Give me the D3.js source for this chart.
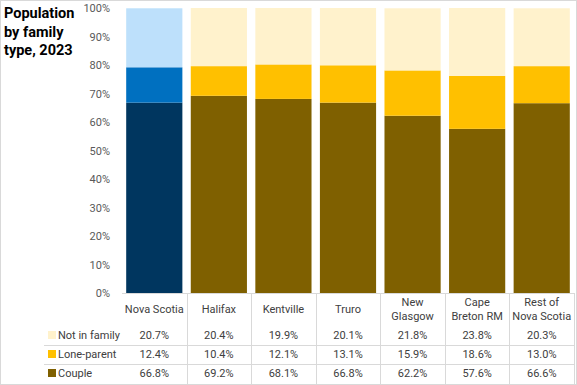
<!DOCTYPE html>
<head>
  <title>Population by family type, 2023</title>
  <style>
    body { margin: 0; background: #fff; }
    text { font-family: Roboto, "Open Sans", sans-serif; }
  </style>
</head>
<body>
  <script src="https://cdn.jsdelivr.net/npm/d3@7"></script>
  <script>
    // data
    var categories = ["Nova Scotia", "Halifax", "Kentville", "Truro", "New Glasgow", "Cape Breton RM", "Rest of Nova Scotia"];
    var catLines = [["Nova Scotia"], ["Halifax"], ["Kentville"], ["Truro"], ["New", "Glasgow"], ["Cape", "Breton RM"], ["Rest of", "Nova Scotia"]];
    var series = ["Couple", "Lone-parent", "Not in family"];
    var couple = [66.8, 69.2, 68.1, 66.8, 62.2, 57.6, 66.6];
    var loneParent = [12.4, 10.4, 12.1, 13.1, 15.9, 18.6, 13.0];
    var notInFamily = [20.7, 20.4, 19.9, 20.1, 21.8, 23.8, 20.3];
    var yTicks = [0, 10, 20, 30, 40, 50, 60, 70, 80, 90, 100];

    var w = 577, h = 385;
    var colors = { "Couple": "#7F6000", "Lone-parent": "#FFC000", "Not in family": "#FFF2CC" };
    var nsColors = { "Couple": "#00365F", "Lone-parent": "#0070C0", "Not in family": "#BDE0FB" };

    var values = { "Couple": couple, "Lone-parent": loneParent, "Not in family": notInFamily };
    var rows = categories.map(function(c, i) {
      return { cat: c, "Couple": couple[i], "Lone-parent": loneParent[i], "Not in family": notInFamily[i] };
    });

    var x = d3.scaleBand().domain(categories).range([122, 574]).paddingInner(0.13).paddingOuter(0.065);
    var y = d3.scaleLinear().domain([0, 100]).range([293, 8]);

    var svg = d3.select("body").append("svg")
      .attr("width", w)
      .attr("height", h);

    // outer border
    svg.append("rect")
      .attr("x", 0.5).attr("y", 0.5)
      .attr("width", w - 1).attr("height", h - 1)
      .attr("fill", "none").attr("stroke", "#d9d9d9");

    // title
    var title = svg.append("text")
      .attr("x", 4).attr("y", 18)
      .style("font-size", "14.5px").style("font-weight", "bold").attr("fill", "#000");
    ["Population", "by family", "type, 2023"].forEach(function(t, i) {
      title.append("tspan").attr("x", 4).attr("dy", i ? 18.5 : 0).text(t);
    });

    // stacked bars
    var stacked = d3.stack().keys(series)(rows);
    svg.selectAll("g.layer")
      .data(stacked)
      .enter().append("g")
      .attr("class", "layer")
      .selectAll("rect")
      .data(function(d) { return d.map(function(p) { p.key = d.key; return p; }); })
      .enter().append("rect")
      .attr("x", function(d) { return x(d.data.cat); })
      .attr("y", function(d) { return y(Math.min(100, d[1])); })
      .attr("width", x.bandwidth())
      .attr("height", function(d) { return y(d[0]) - y(Math.min(100, d[1])); })
      .attr("fill", function(d) {
        return d.data.cat === "Nova Scotia" ? nsColors[d.key] : colors[d.key];
      });

    // y axis
    var yAxis = d3.axisLeft(y).tickValues(yTicks).tickSize(0).tickPadding(0)
      .tickFormat(function(d) { return d + "%"; });
    var ga = svg.append("g").attr("transform", "translate(110,0)").call(yAxis);
    ga.select(".domain").remove();
    ga.selectAll("text").style("font-size", "11px").attr("fill", "#595959")
      .style("font-family", "Roboto, sans-serif");

    // table grid
    var gridColor = "#d9d9d9";
    svg.append("line").attr("x1", 122).attr("x2", 574).attr("y1", 293.5).attr("y2", 293.5)
      .attr("stroke", gridColor);
    categories.forEach(function(c) {
      var xr = Math.round(x(c) + x.step() - x.step() * x.paddingInner() / 2) + 0.5;
      svg.append("line").attr("x1", xr).attr("x2", xr).attr("y1", 293).attr("y2", 385)
        .attr("stroke", gridColor);
    });
    [345.5, 364.5].forEach(function(yy) {
      svg.append("line").attr("x1", 44).attr("x2", 574).attr("y1", yy).attr("y2", yy)
        .attr("stroke", gridColor);
    });

    // category labels
    categories.forEach(function(c, i) {
      var cx = x(c) + x.bandwidth() / 2;
      var lines = catLines[i];
      var t = svg.append("text").attr("x", cx).attr("text-anchor", "middle")
        .style("font-size", "11px").attr("fill", "#404040");
      lines.forEach(function(l, j) {
        var base = lines.length === 1 ? 313 : 306 + j * 14;
        t.append("tspan").attr("x", cx).attr("y", base).text(l);
      });
    });

    // table rows
    var tableRows = ["Not in family", "Lone-parent", "Couple"];
    var rowY = [339, 358, 377];
    tableRows.forEach(function(s, r) {
      svg.append("rect").attr("x", 48).attr("y", rowY[r] - 8).attr("width", 8).attr("height", 8)
        .attr("fill", colors[s]);
      svg.append("text").attr("x", 58).attr("y", rowY[r])
        .style("font-size", "11px").attr("fill", "#404040").text(s);
      values[s].forEach(function(v, i) {
        svg.append("text").attr("x", x(categories[i]) + x.bandwidth() / 2).attr("y", rowY[r])
          .attr("text-anchor", "middle").style("font-size", "11px").attr("fill", "#404040")
          .text(v.toFixed(1) + "%");
      });
    });
  </script>
</body>
